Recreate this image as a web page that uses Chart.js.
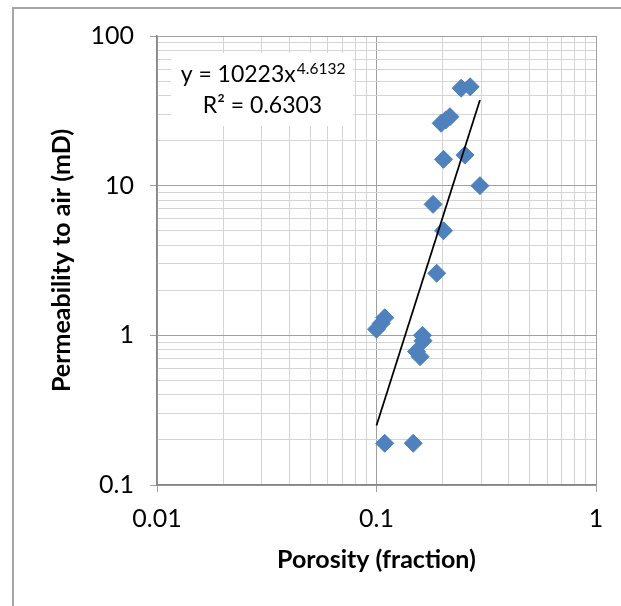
<!DOCTYPE html>
<html>
<head>
<meta charset="utf-8">
<script src="https://cdn.jsdelivr.net/npm/chart.js@4"></script>
<style>
  html, body { margin: 0; padding: 0; background: #fff; }
  #wrap { width: 621px; height: 606px; }
</style>
</head>
<body>
<div id="wrap"><canvas id="chart" width="621" height="606"></canvas></div>
<script>
// porosity (fraction) vs permeability to air (mD)
const porosity = [0.243, 0.267, 0.197, 0.207, 0.216, 0.202, 0.253, 0.296, 0.181, 0.202,
                  0.188, 0.109, 0.105, 0.100, 0.162, 0.163, 0.152, 0.158, 0.109, 0.147];
const permeability = [44.8, 45.8, 26.1, 27.5, 28.9, 15.0, 16.0, 10.0, 7.5, 5.0,
                      2.6, 1.31, 1.2, 1.1, 1.0, 0.92, 0.78, 0.72, 0.19, 0.19];

// power trendline end points
const trendX = [0.1, 0.296];
const trendY = [0.25, 37.3];
const trendLabel = ['y = 10223x', '4.6132', 'R² = 0.6303'];

// axis ticks (log grid 1..9 per decade)
const xGrid = [0.01, 0.02, 0.03, 0.04, 0.05, 0.06, 0.07, 0.08, 0.09,
               0.1, 0.2, 0.3, 0.4, 0.5, 0.6, 0.7, 0.8, 0.9, 1];
const xMajor = [0.01, 0.1, 1];
const xLabels = ['0.01', '0.1', '1'];
const yGrid = [0.1, 0.2, 0.3, 0.4, 0.5, 0.6, 0.7, 0.8, 0.9,
               1, 2, 3, 4, 5, 6, 7, 8, 9,
               10, 20, 30, 40, 50, 60, 70, 80, 90, 100];
const yMajor = [0.1, 1, 10, 100];
const yLabels = ['0.1', '1', '10', '100'];

const FONT = 'Lato, Carlito, "Open Sans", sans-serif';
const MAJOR = '#a0a0a0';
const MINOR = '#d4d4d4';

const frame = {
  id: 'frame',
  beforeDraw(chart) {
    const c = chart.ctx;
    c.save();
    c.fillStyle = '#fff';
    c.fillRect(0, 0, chart.width, chart.height);
    c.strokeStyle = '#a6a6a6';
    c.lineWidth = 2;
    c.strokeRect(13, 8, 700, 700);
    c.restore();
  }
};

const eqBox = {
  id: 'eqBox',
  afterDraw(chart) {
    const c = chart.ctx;
    const a = chart.chartArea;
    const bx = a.left + 14, by = a.top + 17;
    c.save();
    c.fillStyle = '#fff';
    c.fillRect(bx, by, 182, 73);
    c.fillStyle = '#000';
    c.textBaseline = 'alphabetic';
    const cx = a.left + 105.5;
    c.font = '23px ' + FONT;
    const w1 = c.measureText(trendLabel[0]).width;
    c.font = '15.5px ' + FONT;
    const w2 = c.measureText(trendLabel[1]).width;
    const x0 = cx - (w1 + w2) / 2;
    c.font = '23px ' + FONT;
    c.textAlign = 'left';
    c.fillText(trendLabel[0], x0, a.top + 46);
    c.font = '15.5px ' + FONT;
    c.fillText(trendLabel[1], x0 + w1 + 1, a.top + 38);
    c.font = '23px ' + FONT;
    c.textAlign = 'center';
    c.fillText(trendLabel[2], cx, a.top + 77);
    c.restore();
  }
};

function gridOpts(majors) {
  const isMajor = ctx => ctx.tick && majors.includes(ctx.tick.value);
  return {
    color: ctx => isMajor(ctx) ? MAJOR : MINOR,
    tickColor: ctx => isMajor(ctx) ? MAJOR : 'rgba(0,0,0,0)',
    lineWidth: 1,
    tickLength: 7,
    drawOnChartArea: true
  };
}

new Chart(document.getElementById('chart'), {
  data: {
    datasets: [
      {
        type: 'line',
        label: 'Power trend',
        data: trendX.map((x, i) => ({ x: x, y: trendY[i] })),
        borderColor: '#000',
        borderWidth: 1.75,
        pointRadius: 0,
        fill: false
      },
      {
        type: 'scatter',
        label: 'Samples',
        data: porosity.map((x, i) => ({ x: x, y: permeability[i] })),
        pointStyle: 'rectRot',
        pointRadius: 9,
        backgroundColor: '#4f81bd',
        borderColor: '#4f81bd',
        borderWidth: 1
      }
    ]
  },
  options: {
    responsive: false,
    animation: false,
    layout: { padding: { top: 36, right: 25, left: 0, bottom: 0 } },
    plugins: { legend: { display: false }, tooltip: { enabled: false } },
    scales: {
      x: {
        type: 'logarithmic',
        min: 0.01,
        max: 1,
        afterBuildTicks: s => { s.ticks = xGrid.map(v => ({ value: v })); },
        afterFit: s => { s.height = 121; },
        grid: gridOpts(xMajor),
        border: { display: true, color: '#868686', width: 1.5 },
        ticks: {
          autoSkip: false,
          maxRotation: 0,
          padding: 12,
          color: '#000',
          font: { family: FONT, size: 25 },
          callback: v => { const i = xMajor.indexOf(v); return i < 0 ? '' : xLabels[i]; }
        },
        title: {
          display: true,
          text: 'Porosity (fraction)',
          color: '#000',
          font: { family: FONT, size: 25, weight: 'bold' },
          padding: { top: 0, bottom: 31 }
        }
      },
      y: {
        type: 'logarithmic',
        min: 0.1,
        max: 100,
        afterBuildTicks: s => { s.ticks = yGrid.map(v => ({ value: v })); },
        afterFit: s => { s.width = 157; },
        grid: gridOpts(yMajor),
        border: { display: true, color: '#868686', width: 1.5 },
        ticks: {
          autoSkip: false,
          padding: 16,
          color: '#000',
          font: { family: FONT, size: 25 },
          callback: v => { const i = yMajor.indexOf(v); return i < 0 ? '' : yLabels[i]; }
        },
        title: {
          display: true,
          text: 'Permeability to air (mD)',
          color: '#000',
          font: { family: FONT, size: 25, weight: 'bold' },
          padding: { top: 47, bottom: 0 }
        }
      }
    }
  },
  plugins: [frame, eqBox]
});
</script>
</body>
</html>
